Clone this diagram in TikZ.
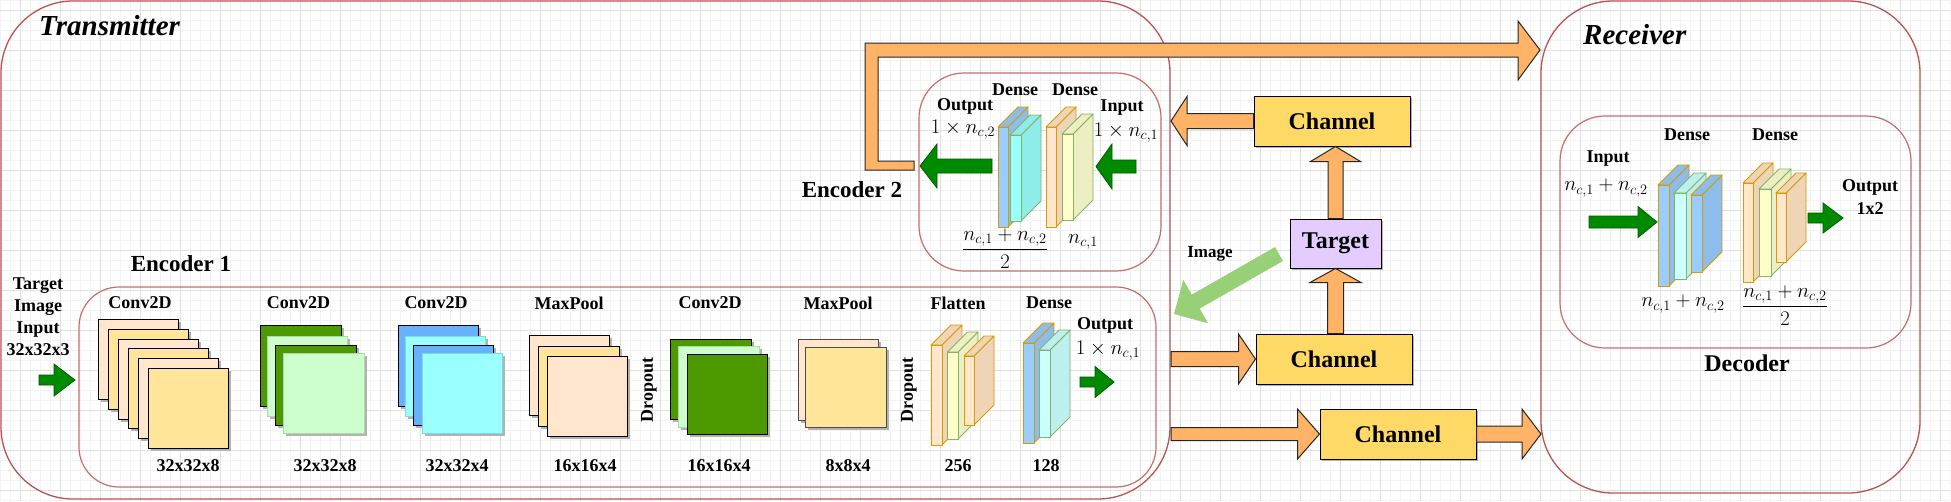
\documentclass[tikz,border=0pt]{standalone}
\usepackage[no-math]{fontspec}
\setmainfont{Liberation Serif}
\usetikzlibrary{calc,shadows}

\definecolor{redbox}{HTML}{B85450}
\definecolor{redin}{HTML}{C46E6B}
\definecolor{orA}{HTML}{FFB366}
\definecolor{chanY}{HTML}{FFD966}
\definecolor{tgtP}{HTML}{E5CCFF}
\definecolor{gA}{HTML}{008A00}
\definecolor{gB}{HTML}{005700}
\definecolor{imgG}{HTML}{97D077}
\definecolor{peach}{HTML}{FFE6CC}
\definecolor{yel}{HTML}{FFE599}
\definecolor{dgreen}{HTML}{4D9900}
\definecolor{lgreen}{HTML}{CCFFCC}
\definecolor{blu}{HTML}{66B2FF}
\definecolor{cyn}{HTML}{99FFFF}
\definecolor{gridmin}{HTML}{F3F3F3}
\definecolor{gridmaj}{HTML}{E0E0E0}
\definecolor{sbF}{HTML}{99CCFF}\definecolor{sbS}{HTML}{8CBDED}
\definecolor{scF}{HTML}{CCFFFF}\definecolor{scS}{HTML}{BDEFEF}
\definecolor{sctF}{HTML}{99FFFF}\definecolor{sctS}{HTML}{8EEDE8}
\definecolor{soF}{HTML}{FFE6CC}\definecolor{soS}{HTML}{EED5B7}
\definecolor{syF}{HTML}{FFFFCC}\definecolor{syS}{HTML}{EEEEC3}
\definecolor{sO}{HTML}{D79B00}\definecolor{sG}{HTML}{82B366}

% block arrow: style, start, tip, shaft half width, head half width, head length
\newcommand\barrow[6]{%
  \coordinate (babase) at ($(#3)!#6!(#2)$);
  \filldraw[#1] ($(#2)!#4!-90:(#3)$) -- ($(babase)!#4!90:(#2)$) -- ($(babase)!#5!90:(#2)$) -- (#3)
     -- ($(babase)!#5!-90:(#2)$) -- ($(babase)!#4!-90:(#2)$) -- ($(#2)!#4!90:(#3)$) -- cycle;
}
% 3D slab: x, y (front top-left), w, h, depth, front fill, side fill, stroke
\newcommand\slab[8]{%
  \filldraw[draw=#8, fill=#7, line width=0.9, line join=round] (#1+#3,#2) -- ++(#5,-#5) -- ++(0,#4) -- ++(-#5,#5) -- cycle;
  \filldraw[draw=#8, fill=#7, line width=0.9, line join=round] (#1,#2) -- ++(#5,-#5) -- ++(#3,0) -- ++(-#5,#5) -- cycle;
  \filldraw[draw=#8, fill=#6, line width=0.9] (#1,#2) rectangle ++(#3,#4);
}

\begin{document}
\begin{tikzpicture}[x=1pt,y=-1pt,
  boxO/.style={draw=redbox, line width=1.3, inner sep=0},
  boxI/.style={draw=redin, line width=1.2, inner sep=0},
  ttl/.style={font=\fontsize{29}{34}\selectfont\bfseries\itshape, inner sep=0},
  hd/.style={font=\fontsize{23}{28}\selectfont\bfseries, inner sep=0},
  lbl/.style={font=\fontsize{18}{22}\selectfont\bfseries, inner sep=0},
  mth/.style={font=\fontsize{19.5}{23}\selectfont, inner sep=0},
  chan/.style={draw=black, line width=1, fill=chanY, minimum width=156, minimum height=50, inner sep=0,
     font=\fontsize{24}{28}\selectfont\bfseries, drop shadow={shadow xshift=2pt, shadow yshift=-2pt, fill=black!30, opacity=1}},
  tgtbox/.style={draw=black, line width=1, fill=tgtP, minimum width=91, minimum height=49, inner sep=0,
     font=\fontsize{24}{28}\selectfont\bfseries, drop shadow={shadow xshift=2pt, shadow yshift=-2pt, fill=black!30, opacity=1}},
  oarr/.style={fill=orA, draw=black!85, line width=1},
  garr/.style={fill=gA, draw=gB, line width=0.8},
  iarr/.style={fill=imgG, draw=none},
  lay/.style={line width=0.9, drop shadow={shadow xshift=3pt, shadow yshift=-3pt, fill=black!30, opacity=1}}
]
\useasboundingbox (0,0) rectangle (1951,501);
\fill[white] (0,0) rectangle (1951,501);
% grid
\foreach \i in {0,10,...,1950} \draw[gridmin, line width=0.6] (\i,0) -- (\i,501);
\foreach \j in {0,10,...,500} \draw[gridmin, line width=0.6] (0,\j) -- (1951,\j);
\foreach \i in {20,60,...,1940} \draw[gridmaj, line width=0.9] (\i,0) -- (\i,501);
\foreach \j in {10,50,...,490} \draw[gridmaj, line width=0.9] (0,\j) -- (1951,\j);

% containers
\node[boxO, minimum width=1169, minimum height=498, rounded corners=72pt] (tx) at (585.5,250) {};
\node[boxO, minimum width=379, minimum height=492, rounded corners=72pt] (rx) at (1730.5,247) {};
\node[boxI, minimum width=1077, minimum height=200, rounded corners=40pt] (enc1) at (617.5,387) {};
\node[boxI, minimum width=242, minimum height=198, rounded corners=45pt] (enc2) at (1040,172) {};
\node[boxI, minimum width=351, minimum height=232, rounded corners=45pt] (dec) at (1735.5,232) {};

% titles
\node[ttl, anchor=base west] (ttx) at (39,35) {Transmitter};
\node[ttl, anchor=base west] (trx) at (1583,44) {Receiver};
\node[hd] (tenc1) at (181,264) {Encoder 1};
\node[hd] (tenc2) at (852,190) {Encoder 2};
\node[hd, font=\fontsize{24}{28}\selectfont\bfseries] (tdec) at (1747,363) {Decoder};

% ---------- Encoder 1 ----------
\node[lbl, align=center] (tin) at (38,317) {Target\\Image\\Input\\32x32x3};
\coordinate (g1s) at (39,380); \coordinate (g1t) at (75,380);
\barrow{garr}{g1s}{g1t}{5pt}{16pt}{21pt}

% conv1
\filldraw[lay, fill=peach, draw=black] (98,319) rectangle ++(80,80);
\filldraw[lay, fill=yel, draw=black] (108,329) rectangle ++(80,80);
\filldraw[lay, fill=peach, draw=black] (118,339) rectangle ++(80,80);
\filldraw[lay, fill=yel, draw=black] (128,348) rectangle ++(80,80);
\filldraw[lay, fill=peach, draw=black] (138,358) rectangle ++(80,80);
\filldraw[lay, fill=yel, draw=black] (148,368) rectangle ++(80,80);
% conv2
\filldraw[lay, fill=dgreen, draw=black] (260,325) rectangle (341,406);
\filldraw[lay, fill=lgreen, draw=lgreen!85!black] (267,336) rectangle (347,416);
\filldraw[lay, fill=dgreen, draw=black] (275,345) rectangle (356,425);
\filldraw[lay, fill=lgreen, draw=lgreen!85!black] (283,353) rectangle (364,433);
% conv3
\filldraw[lay, fill=blu, draw=black] (398,325) rectangle (478,406);
\filldraw[lay, fill=cyn, draw=cyn!85!black] (405,336) rectangle (485,416);
\filldraw[lay, fill=blu, draw=black] (413,345) rectangle (493,425);
\filldraw[lay, fill=cyn, draw=cyn!85!black] (422,353) rectangle (502,433);
% maxpool1
\filldraw[lay, fill=peach, draw=black] (529,335) rectangle (609,415);
\filldraw[lay, fill=yel, draw=black] (538,346) rectangle (619,426);
\filldraw[lay, fill=peach, draw=black] (547,356) rectangle (627,436);
% conv4
\filldraw[lay, fill=dgreen, draw=black] (670,339) rectangle (751,419);
\filldraw[lay, fill=lgreen, draw=lgreen!85!black] (678,346) rectangle (759,427);
\filldraw[lay, fill=dgreen, draw=black] (687,354) rectangle (767,434);
% maxpool2
\filldraw[lay, fill=peach, draw=black!70] (798,339) rectangle (878,420);
\filldraw[lay, fill=yel, draw=black!70] (805,347) rectangle (886,427);
% flatten
\slab{931}{345}{11}{100}{20}{soF}{soS}{sO}
\slab{947.5}{352}{10.5}{87}{20}{syF}{syS}{sG}
\slab{964}{356}{10}{69}{20}{soF}{soS}{sO}
% dense
\slab{1023}{343}{11}{100}{20}{sbF}{sbS}{sO}
\slab{1039}{350}{11}{87}{20}{scF}{scS}{sG}

\node[lbl] (l1) at (140,303) {Conv2D};
\node[lbl] (l2) at (298.5,303) {Conv2D};
\node[lbl] (l3) at (436,303) {Conv2D};
\node[lbl] (l4) at (569,303) {MaxPool};
\node[lbl] (l5) at (710,303) {Conv2D};
\node[lbl] (l6) at (838,303) {MaxPool};
\node[lbl] (l7) at (958,303) {Flatten};
\node[lbl] (l8) at (1049,303) {Dense};
\node[lbl] (s1) at (188,466) {32x32x8};
\node[lbl] (s2) at (325,466) {32x32x8};
\node[lbl] (s3) at (457,466) {32x32x4};
\node[lbl] (s4) at (585,466) {16x16x4};
\node[lbl] (s5) at (719,466) {16x16x4};
\node[lbl] (s6) at (848,466) {8x8x4};
\node[lbl] (s7) at (958,466) {256};
\node[lbl] (s8) at (1046,466) {128};
\node[lbl, rotate=90] (d1) at (649,390) {Dropout};
\node[lbl, rotate=90] (d2) at (909,390) {Dropout};
\node[lbl] (e1out) at (1105,325) {Output};
\node[mth] (e1outm) at (1108,351) {$1\times n_{c,1}$};
\coordinate (g2s) at (1080,382); \coordinate (g2t) at (1114,382);
\barrow{garr}{g2s}{g2t}{5pt}{15.5pt}{19pt}

% ---------- Encoder 2 ----------
\slab{998}{127}{10}{100}{20}{sbF}{sbS}{sO}
\slab{1010}{135}{11}{86}{20}{sctF}{sctS}{sG}
\slab{1046}{127}{10}{100}{20}{soF}{soS}{sO}
\slab{1062}{134}{11}{86}{20}{syF}{syS}{sG}
\node[lbl] (e2d1) at (1015,90) {Dense};
\node[lbl] (e2d2) at (1075,90) {Dense};
\node[lbl] (e2out) at (965,106) {Output};
\node[mth] (e2outm) at (963,130) {$1\times n_{c,2}$};
\node[lbl] (e2in) at (1122,108) {Input};
\node[mth] (e2inm) at (1126,133) {$1\times n_{c,1}$};
\node[mth] (e2f) at (1005,249) {$\displaystyle\frac{n_{c,1}+n_{c,2}}{2}$};
\node[mth] (e2n) at (1083,242) {$n_{c,1}$};
\coordinate (g3s) at (1136,166.5); \coordinate (g3t) at (1096,166.5);
\barrow{garr}{g3s}{g3t}{6.5pt}{22.5pt}{16pt}
\coordinate (g4s) at (992,166); \coordinate (g4t) at (920,166);
\barrow{garr}{g4s}{g4t}{7pt}{22pt}{17pt}

% ---------- Channels / Target ----------
\node[chan] (ch1) at (1332,121) {Channel};
\node[chan] (ch2) at (1334,359) {Channel};
\node[chan] (ch3) at (1398,434) {Channel};
\node[tgtbox] (tgt) at (1335.5,243.5) {Target};
\node[lbl, font=\fontsize{17}{20}\selectfont\bfseries] (timg) at (1210,254) {Image};

\coordinate (tredge) at (1171,0);
\coordinate (rxedge) at (1541,0);
\coordinate (a1t) at (ch1.west -| tredge);
\barrow{oarr}{ch1.west}{a1t}{7.5pt}{24.5pt}{16pt}
\coordinate (a2s) at (tgt.north);
\coordinate (a2t) at (tgt.north |- ch1.south);
\barrow{oarr}{a2s}{a2t}{7.5pt}{25pt}{15pt}
\coordinate (a3s) at (tgt.south |- ch2.north);
\barrow{oarr}{a3s}{tgt.south}{8pt}{25.5pt}{14pt}
\coordinate (a4s) at (ch2.west -| tredge);
\barrow{oarr}{a4s}{ch2.west}{7.5pt}{25pt}{17pt}
\coordinate (a5s) at (ch3.west -| tredge);
\barrow{oarr}{a5s}{ch3.west}{6.5pt}{25pt}{22pt}
\coordinate (a6t) at (ch3.east -| rxedge);
\barrow{oarr}{ch3.east}{a6t}{8pt}{25pt}{19pt}

\coordinate (imgtail) at (1279,254);
\coordinate (imgtip) at (1174,314);
\barrow{iarr}{imgtail}{imgtip}{8pt}{25pt}{25pt}

% top feedback arrow Encoder 2 -> Receiver
\coordinate (rxtop) at (1540,50);
\filldraw[oarr] (865,43) -- (1518,43) -- (1518,21) -- (rxtop) -- (1518,80) -- (1518,57) -- (878,57)
  -- (878,161) -- (914,161) -- (914,170) -- (865,170) -- cycle;

% ---------- Decoder ----------
\slab{1658}{185}{11}{101}{20}{sbF}{sbS}{sO}
\slab{1674}{193}{12}{86}{20}{scF}{scS}{sG}
\slab{1691}{195}{11}{77}{20}{sbF}{sbS}{sO}
\slab{1743}{183}{10}{99}{20}{soF}{soS}{sO}
\slab{1759}{189}{12}{87}{20}{syF}{syS}{sG}
\slab{1776}{193}{10}{69}{20}{soF}{soS}{sO}
\node[lbl] (dd1) at (1687,135) {Dense};
\node[lbl] (dd2) at (1775,135) {Dense};
\node[lbl] (din) at (1608,159) {Input};
\node[mth] (dinm) at (1606,188) {$n_{c,1}+n_{c,2}$};
\node[mth] (dn) at (1683,304) {$n_{c,1}+n_{c,2}$};
\node[mth] (df) at (1785,306) {$\displaystyle\frac{n_{c,1}+n_{c,2}}{2}$};
\node[lbl] (dout) at (1870,187) {Output};
\node[lbl] (dout2) at (1870,209) {1x2};
\coordinate (g5s) at (1589,222); \coordinate (g5t) at (1657,222);
\barrow{garr}{g5s}{g5t}{6pt}{15.5pt}{19pt}
\coordinate (g6s) at (1808,218); \coordinate (g6t) at (1843,218);
\barrow{garr}{g6s}{g6t}{5pt}{15pt}{20pt}
\end{tikzpicture}
\end{document}
